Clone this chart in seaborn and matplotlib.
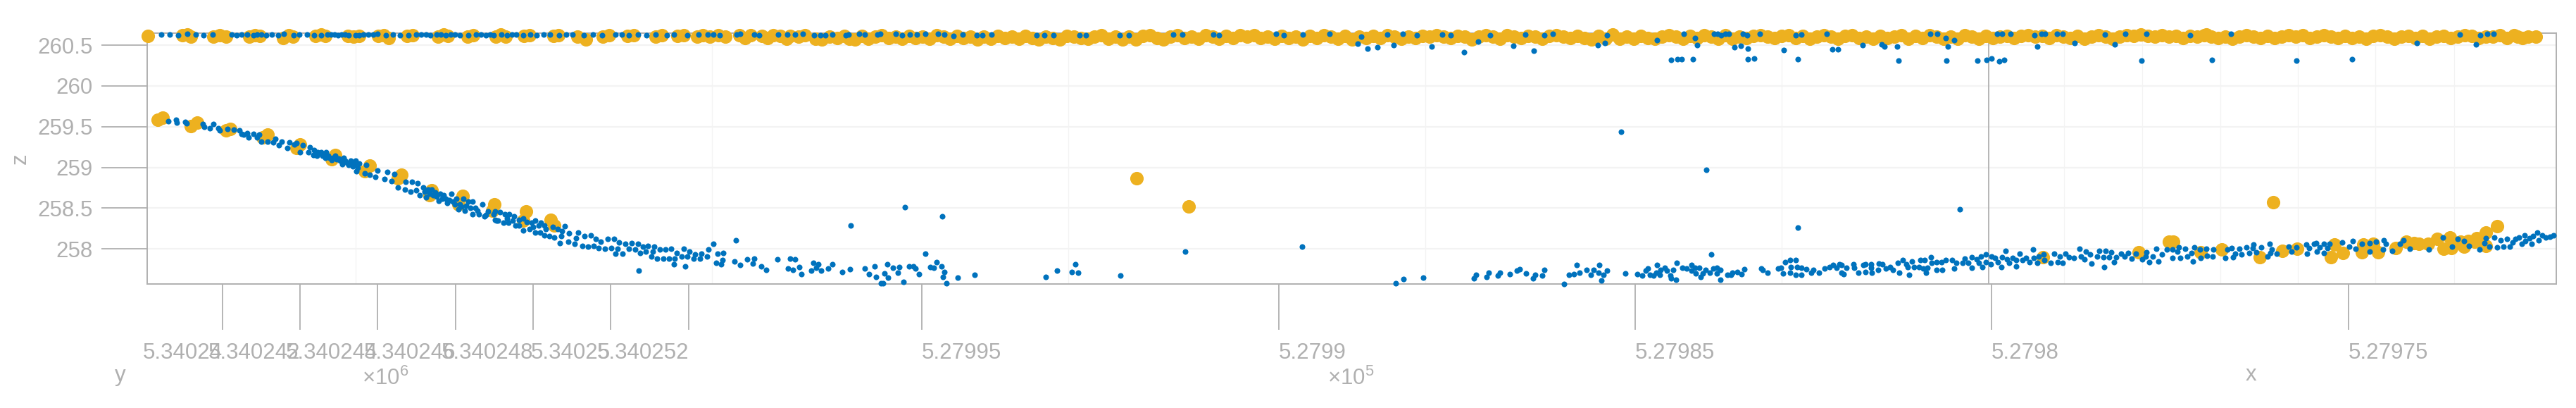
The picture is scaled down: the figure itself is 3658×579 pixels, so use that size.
import matplotlib
matplotlib.use("Agg")
import matplotlib.pyplot as plt
import pandas as pd
import seaborn as sns

# (track position along the view, z)
blue_descent = [(239,259.57),(250,259.58),(251,259.55),(263,259.56),(265,259.54),(288,259.53),(290,259.50),(298,259.48),(303,259.53),(310,259.48),(312,259.45),(323,259.47),(332,259.46),(340,259.45),(343,259.41),(346,259.40),(351,259.42),(353,259.37),(360,259.41),(365,259.37),(368,259.40),(371,259.32),(380,259.32),(388,259.31),(391,259.35),(396,259.27),(400,259.32),(408,259.24),(411,259.31),(418,259.28),(421,259.30),(430,259.27),(426,259.19),(438,259.19),(440,259.25),(446,259.21),(445,259.15),(451,259.19),(456,259.19),(450,259.14),(460,259.15),(463,259.19),(466,259.14),(471,259.09),(476,259.14),(481,259.11),(488,259.12),(486,259.04),(493,259.06),(498,259.08),(501,259.01),(505,259.08),(506,258.95),(510,259.05),(520,259.03),(518,258.93),(525,258.91),(533,258.88),(536,258.96),(546,258.86),(550,258.94),(556,258.83),(560,258.92),(565,258.75),(575,258.73),(576,258.82),(583,258.70),(585,258.82),(591,258.72),(593,258.81),(596,258.66),(601,258.75),(608,258.73),(613,258.73),(605,258.63),(618,258.69),(623,258.59),(625,258.68),(630,258.66),(635,258.56),(641,258.68),(648,258.62),(651,258.49),(658,258.62),(660,258.47),(665,258.58),(671,258.43),(671,258.58),(680,258.43),(685,258.55),(688,258.40),(693,258.46),(705,258.35),(701,258.43)]
blue_dense = [(455,259.17),(458,259.14),(462,259.12),(468,259.12),(473,259.12),(478,259.10),(483,259.08),(490,259.08),(495,259.03),(500,259.05),(503,259.03),(508,259.00),(603,258.70),(610,258.68),(615,258.66),(620,258.64),(628,258.62),(633,258.62),(638,258.60),(643,258.58),(646,258.55),(653,258.55),(655,258.52),(662,258.53),(668,258.50),(675,258.50),(678,258.47),(690,258.42)]
blue_knee = [(703,258.46),(703,258.36),(710,258.45),(707,258.35),(717,258.43),(715,258.32),(723,258.43),(722,258.32),(720,258.37),(730,258.40),(732,258.29),(728,258.35),(737,258.36),(737,258.29),(743,258.37),(743,258.23),(748,258.33),(752,258.24),(755,258.32),(760,258.35),(760,258.20),(757,258.27),(765,258.29),(768,258.32),(767,258.20),(773,258.29),(773,258.17),(780,258.16),(775,258.24),(785,258.27),(787,258.14),(792,258.24),(798,258.22),(797,258.16),(802,258.28),(795,258.07),(808,258.19),(807,258.09),(821,258.20),(818,258.13),(816,258.06),(830,258.16),(827,258.04),(839,258.17),(835,258.03),(846,258.12),(843,258.04),(853,258.09),(850,258.01),(863,258.12),(859,258.00),(872,258.12),(868,258.01),(879,258.08),(877,258.00),(874,257.94),(884,257.94),(888,258.06),(897,258.07),(893,258.00),(906,258.06),(902,257.99),(913,258.03),(909,257.95),(920,258.04),(917,257.97),(929,258.03),(927,257.97),(925,257.91),(907,257.73),(937,257.99),(933,257.88),(945,257.99),(942,257.88),(953,258.00),(950,257.88),(961,257.95),(958,257.88),(957,257.81),(971,258.00),(968,257.91),(979,257.97),(976,257.91),(973,257.79),(987,257.93),(985,257.88),(996,257.94),(994,257.88),(1006,257.99),(1004,257.91),(1013,258.06),(1019,257.94),(1027,257.95),(1017,257.83),(1024,257.81),(1026,257.86)]
blue_floor = [(1045,258.11),(1043,257.85),(1051,257.80),(1061,257.87),(1071,257.88),(1069,257.82),(1081,257.79),(1088,257.74),(1104,257.87),(1122,257.88),(1129,257.87),(1119,257.76),(1126,257.74),(1135,257.78),(1138,257.69),(1155,257.83),(1162,257.81),(1159,257.77),(1152,257.73),(1166,257.73),(1176,257.76),(1182,257.81),(1196,257.72),(1207,257.75),(1208,258.29),(1228,257.76),(1234,257.69),(1242,257.79),(1244,257.66),(1251,257.58),(1254,257.58),(1256,257.70),(1261,257.65),(1260,257.81),(1268,257.77),(1277,257.78),(1275,257.71),(1283,257.60),(1285,258.51),(1291,257.79),(1297,257.79),(1300,257.76),(1305,257.69),(1314,257.94),(1321,257.78),(1326,257.77),(1330,257.84),(1337,257.79),(1338,258.40),(1341,257.72),(1339,257.66),(1344,257.58),(1360,257.65),(1384,257.68),(1485,257.66),(1501,257.73),(1522,257.72),(1527,257.81),(1531,257.71),(1591,257.67),(1683,257.97),(1849,258.03),(1982,257.58),(1993,257.63),(2021,257.65)]
blue_low_flat = [(2093,257.64),(2096,257.68),(2111,257.66),(2114,257.71),(2127,257.67),(2130,257.71),(2144,257.69),(2154,257.73),(2158,257.75),(2167,257.70),(2177,257.64),(2180,257.68),(2190,257.67),(2193,257.74),(2221,257.57),(2228,257.68),(2235,257.69),(2239,257.80),(2243,257.71),(2253,257.74),(2259,257.68),(2263,257.74),(2271,257.80),(2270,257.71),(2277,257.68),(2274,257.61),(2282,257.73),(2308,257.70),(2325,257.69),(2332,257.67),(2337,257.73),(2340,257.76),(2343,257.68),(2348,257.67),(2353,257.80),(2352,257.71),(2357,257.68),(2358,257.74),(2364,257.77),(2367,257.73),(2372,257.67),(2376,257.74),(2373,257.64),(2380,257.62),(2381,257.83),(2389,257.77),(2395,257.76),(2402,257.80),(2402,257.73),(2407,257.77),(2408,257.70),(2413,257.77),(2415,257.66),(2418,257.70),(2422,257.74),(2430,257.93),(2428,257.71),(2433,257.76),(2438,257.77),(2438,257.70),(2443,257.74),(2443,257.62),(2453,257.68),(2460,257.71),(2458,257.68),(2467,257.72),(2473,257.69),(2477,257.75),(2501,257.76),(2503,257.74),(2510,257.71),(2525,257.76),(2529,257.77),(2535,257.84),(2542,257.86),(2550,257.86),(2543,257.78),(2532,257.70),(2542,257.71),(2550,257.68),(2552,257.78),(2558,257.77),(2558,257.68),(2565,257.75),(2572,257.71),(2575,257.74)]
blue_rise_a = [(2583,257.71),(2591,257.76),(2598,257.78),(2603,257.80),(2608,257.77),(2612,257.81),(2615,257.80),(2615,257.71),(2618,257.69),(2622,257.77),(2632,257.81),(2633,257.77),(2639,257.71),(2646,257.80),(2649,257.72),(2649,257.81),(2657,257.81),(2657,257.77),(2658,257.71),(2667,257.74),(2668,257.82),(2673,257.81),(2678,257.76),(2684,257.78),(2688,257.74),(2695,257.83),(2697,257.71),(2702,257.86),(2707,257.81),(2711,257.68),(2709,257.78),(2715,257.85),(2718,257.78),(2727,257.86),(2725,257.78),(2733,257.86),(2731,257.76),(2735,257.71),(2737,257.77),(2742,257.90),(2743,257.83),(2750,257.74),(2750,257.84),(2758,257.74),(2757,257.84),(2763,257.86),(2772,257.86),(2778,257.83),(2775,257.76),(2787,257.83),(2790,257.88),(2795,257.83),(2800,257.77),(2800,257.90),(2807,257.87),(2813,257.91),(2820,257.93),(2810,257.83),(2815,257.78),(2820,257.84),(2828,257.91),(2827,257.81),(2833,257.89),(2837,257.84),(2842,257.78),(2843,257.90),(2848,257.98),(2850,257.87),(2853,257.83),(2858,257.89),(2863,257.79),(2863,257.86),(2868,257.94),(2872,257.86),(2877,257.89),(2882,257.84),(2887,257.99),(2888,257.89),(2893,257.83),(2895,257.91),(2902,257.93),(2903,257.86),(2912,257.83),(2917,257.94),(2922,257.84),(2925,257.91),(2929,257.83),(2933,257.94),(2938,257.90),(2945,257.89),(2953,258.00),(2955,257.91),(2960,257.87),(2962,257.97),(2968,257.93),(2970,257.82),(2978,257.91),(2981,257.98),(2988,257.78),(2990,257.98),(2987,257.90),(2995,257.90),(2998,257.96),(3002,257.84),(3005,257.90),(3012,257.94),(3017,257.91),(3022,257.95),(3027,257.88),(3033,257.94),(3042,257.87),(3048,257.96),(3047,257.91),(3052,257.84),(3057,257.91),(3062,258.00),(3065,257.85),(3070,257.93),(3077,257.99)]
blue_rise_b = [(3085,257.99),(3085,257.89),(3094,258.02),(3092,257.97),(3096,257.89),(3103,258.00),(3106,257.91),(3112,257.95),(3114,257.85),(3116,258.02),(3125,257.89),(3124,257.99),(3133,258.00),(3134,257.92),(3142,257.91),(3143,257.99),(3160,257.89),(3163,257.99),(3169,258.01),(3171,257.90),(3174,257.94),(3180,258.00),(3183,257.93),(3190,258.02),(3194,257.95),(3199,258.01),(3200,258.05),(3204,257.96),(3211,258.02),(3220,257.91),(3223,258.06),(3226,257.99),(3224,257.95),(3233,257.94),(3250,258.03),(3254,257.97),(3261,258.02),(3275,258.05),(3276,257.94),(3279,258.01),(3286,258.06),(3289,258.07),(3290,257.97),(3294,258.02),(3300,258.06),(3300,257.95),(3305,258.01),(3308,258.06),(3326,258.08),(3336,258.03),(3341,258.10),(3345,258.00),(3354,258.06),(3365,258.07),(3365,257.97),(3374,258.09),(3384,257.99),(3385,258.11),(3388,258.06),(3397,257.98),(3408,258.06),(3413,258.11),(3422,258.00),(3449,257.99),(3469,258.14),(3482,258.03),(3490,258.12),(3499,258.10),(3506,258.04),(3521,257.99),(3528,258.07),(3530,258.13),(3535,258.03),(3542,258.14),(3546,258.02),(3551,258.11),(3555,258.03),(3560,258.12),(3564,258.03),(3568,258.08),(3572,258.12),(3577,258.14),(3581,258.06),(3585,258.17),(3586,258.10),(3592,258.13),(3595,258.06),(3597,258.16),(3603,258.20),(3605,258.11),(3610,258.17),(3615,258.14),(3621,258.15),(3626,258.17)]
blue_outliers = [(2302,259.44),(2423,258.97),(2553,258.26),(2783,258.49)]
blue_top_left = [(229,260.63),(241,260.63),(253,260.62),(266,260.64),(278,260.63),(289,260.62),(302,260.63),(329,260.63),(336,260.62),(343,260.63),(351,260.63),(360,260.62),(365,260.63),(371,260.63),(378,260.62),(386,260.63),(395,260.62),(403,260.64),(417,260.62),(425,260.63),(436,260.63),(446,260.62),(456,260.62),(465,260.63),(470,260.63),(475,260.63),(480,260.62),(485,260.63),(490,260.63),(495,260.62),(505,260.62),(510,260.62),(516,260.63),(523,260.63),(530,260.63),(536,260.64),(548,260.62),(558,260.63),(568,260.62),(580,260.62),(591,260.63),(598,260.63),(605,260.63),(611,260.62),(620,260.63),(626,260.63),(633,260.62),(640,260.63),(646,260.63),(653,260.62),(665,260.62),(676,260.63),(683,260.63),(690,260.62),(696,260.63),(701,260.62),(712,260.63),(720,260.62),(727,260.63),(733,260.63),(743,260.62),(753,260.63),(762,260.62),(772,260.63),(781,260.63),(794,260.62),(804,260.63),(813,260.63),(829,260.62),(842,260.63),(855,260.62),(874,260.63),(883,260.63),(893,260.62),(906,260.63),(918,260.62),(931,260.63),(947,260.62),(957,260.63),(976,260.62),(992,260.63)]
blue_top_mid = [(1005,260.63),(1013,260.63),(1022,260.62),(1046,260.63),(1051,260.64),(1071,260.63),(1078,260.62),(1105,260.63),(1118,260.63),(1129,260.63),(1140,260.64),(1156,260.62),(1165,260.62),(1172,260.62),(1182,260.63),(1201,260.62),(1205,260.63),(1220,260.64),(1228,260.63),(1246,260.63),(1250,260.64),(1272,260.64),(1281,260.62),(1292,260.63),(1302,260.63),(1314,260.64),(1332,260.64),(1341,260.63),(1354,260.61),(1367,260.63),(1387,260.62),(1395,260.62),(1408,260.63),(1472,260.62),(1483,260.62),(1496,260.62),(1533,260.62),(1542,260.62),(1590,260.62),(1603,260.62),(1666,260.63),(1679,260.63),(1723,260.63),(1731,260.62),(1812,260.64),(1823,260.62),(1850,260.63),(1888,260.64),(1928,260.52),(1933,260.60),(1942,260.46),(1956,260.47),(1970,260.63),(1979,260.50),(1992,260.64)]
blue_top_right = [(2012,260.62),(2033,260.48),(2048,260.63),(2060,260.62),(2079,260.41),(2099,260.54),(2116,260.62),(2149,260.49),(2166,260.63),(2178,260.43),(2193,260.62),(2205,260.64),(2269,260.50),(2279,260.53),(2282,260.62),(2353,260.56),(2373,260.32),(2382,260.33),(2388,260.33),(2391,260.64),(2404,260.33),(2407,260.59),(2410,260.50),(2434,260.64),(2439,260.64),(2444,260.62),(2450,260.64),(2455,260.64),(2463,260.47),(2472,260.49),(2475,260.64),(2481,260.62),(2482,260.46),(2482,260.33),(2491,260.34),(2499,260.64),(2533,260.44),(2550,260.62),(2553,260.33),(2558,260.63),(2594,260.64),(2602,260.45),(2610,260.45),(2645,260.50),(2672,260.51),(2676,260.48),(2694,260.48),(2696,260.31),(2741,260.64),(2751,260.64),(2763,260.59),(2764,260.31),(2766,260.48),(2775,260.56),(2808,260.31),(2821,260.32),(2828,260.34),(2836,260.64),(2839,260.30),(2843,260.64),(2846,260.32),(2855,260.64),(2889,260.62),(2893,260.48),(2899,260.64),(2904,260.64),(2921,260.64),(2929,260.64),(2946,260.53),(2989,260.63),(3003,260.51),(3018,260.64),(3041,260.31),(3048,260.64),(3110,260.62),(3141,260.32),(3168,260.64),(3261,260.31),(3340,260.33),(3432,260.53),(3493,260.63),(3516,260.51),(3522,260.62),(3532,260.64),(3541,260.64)]

orange_descent = [(224,259.58),(231,259.61),(271,259.51),(280,259.55),(321,259.45),(327,259.47),(373,259.37),(380,259.40),(421,259.24),(426,259.28),(471,259.10),(476,259.15),(518,258.95),(525,259.02),(565,258.87),(570,258.91),(610,258.66),(613,258.72),(651,258.55),(657,258.65),(702,258.55),(699,258.47),(747,258.46),(743,258.35),(782,258.36),(787,258.29)]
orange_off_band = [(1614,258.87),(1688,258.52),(2901,257.90),(3037,257.96),(3080,258.09),(3086,258.09),(3125,257.96),(3155,257.99),(3228,258.57),(3209,257.90),(3241,257.98),(3262,258.00),(3310,257.90),(3315,258.05),(3327,257.95),(3354,257.96),(3356,258.05),(3370,258.06),(3377,257.96),(3402,258.01),(3417,258.09),(3428,258.07),(3435,258.06),(3448,258.06),(3461,258.12),(3470,258.00),(3479,258.14),(3481,258.01),(3494,258.09),(3499,258.03),(3505,258.10),(3514,258.09),(3517,258.13),(3530,258.20),(3530,258.04),(3546,258.28)]
orange_top_left = [(210,260.61),(259,260.62),(266,260.63),(271,260.60),(303,260.60),(312,260.62),(321,260.60),(354,260.60),(362,260.62),(369,260.61),(402,260.59),(410,260.62),(416,260.60),(448,260.61),(456,260.63),(462,260.61),(494,260.61),(502,260.60),(510,260.61),(537,260.61),(545,260.62),(552,260.59),(578,260.61),(586,260.62),(622,260.60),(630,260.63),(636,260.61),(664,260.60),(672,260.62),(704,260.60),(711,260.63),(718,260.60),(744,260.61),(752,260.62),(786,260.61),(793,260.62),(820,260.60),(832,260.57),(856,260.60),(865,260.62),(891,260.61),(900,260.62),(931,260.60),(940,260.62),(962,260.61),(971,260.62),(990,260.60),(998,260.62)]
orange_top_mid = [(1008,260.60),(1020,260.62),(1030,260.60),(1050,260.62),(1058,260.59),(1066,260.62),(1082,260.61),(1090,260.59),(1098,260.62),(1108,260.61),(1117,260.58),(1122,260.61),(1134,260.60),(1143,260.62),(1158,260.58),(1167,260.57),(1178,260.60),(1189,260.59),(1199,260.61),(1206,260.58),(1214,260.57),(1224,260.61),(1233,260.58),(1243,260.60),(1252,260.62),(1262,260.59),(1272,260.60),(1281,260.58),(1291,260.61),(1300,260.59),(1310,260.60),(1320,260.58),(1330,260.62),(1340,260.60),(1349,260.58),(1359,260.61),(1368,260.59),(1378,260.60),(1388,260.57),(1397,260.60),(1407,260.58),(1417,260.61),(1427,260.59),(1437,260.60),(1447,260.58),(1456,260.61),(1466,260.59),(1475,260.57),(1485,260.60),(1495,260.59),(1505,260.57),(1515,260.61),(1525,260.60),(1535,260.59),(1545,260.58),(1554,260.60),(1564,260.62),(1574,260.58),(1584,260.60),(1594,260.57),(1603,260.60),(1613,260.57),(1623,260.61),(1633,260.62),(1643,260.59),(1652,260.57),(1662,260.60),(1672,260.62),(1682,260.59),(1692,260.60),(1702,260.58),(1712,260.62),(1722,260.60),(1731,260.58),(1741,260.61),(1751,260.59),(1761,260.62),(1771,260.60),(1781,260.62),(1790,260.59),(1800,260.60),(1810,260.58),(1820,260.61),(1830,260.59),(1840,260.60),(1850,260.57),(1860,260.61),(1870,260.59),(1880,260.62),(1890,260.60),(1900,260.58),(1910,260.61),(1920,260.57),(1930,260.60),(1940,260.59),(1950,260.61),(1960,260.59),(1970,260.62),(1980,260.60),(1990,260.58)]
orange_top_centre = [(2000,260.60),(2010,260.59),(2020,260.61),(2030,260.60),(2040,260.62),(2050,260.60),(2060,260.59),(2070,260.61),(2080,260.60),(2090,260.57),(2100,260.60),(2110,260.62),(2120,260.60),(2130,260.58),(2140,260.62),(2150,260.60),(2160,260.59),(2170,260.61),(2180,260.60),(2190,260.58),(2200,260.61),(2210,260.62),(2220,260.60),(2230,260.59),(2240,260.61),(2250,260.59),(2260,260.57),(2270,260.61),(2280,260.58),(2290,260.63),(2300,260.58),(2310,260.60),(2320,260.58),(2330,260.61),(2340,260.59),(2350,260.58),(2360,260.60),(2370,260.62),(2380,260.60),(2390,260.58),(2400,260.61),(2410,260.59),(2420,260.62),(2430,260.60),(2440,260.58),(2450,260.62),(2460,260.58),(2470,260.60),(2480,260.59),(2490,260.61),(2500,260.62),(2510,260.60),(2520,260.59),(2530,260.61),(2540,260.62),(2550,260.59),(2560,260.61),(2570,260.58),(2580,260.60),(2590,260.62),(2600,260.60),(2610,260.58),(2620,260.61),(2630,260.62),(2640,260.59),(2650,260.60),(2660,260.58),(2670,260.61),(2680,260.59),(2690,260.60),(2700,260.62),(2710,260.58),(2720,260.61),(2730,260.59),(2740,260.62),(2750,260.60),(2760,260.58),(2770,260.60),(2780,260.58),(2790,260.62),(2800,260.60),(2810,260.58),(2820,260.61),(2830,260.59),(2840,260.60),(2850,260.61),(2860,260.59),(2870,260.61),(2880,260.62),(2890,260.60),(2900,260.61),(2910,260.59),(2920,260.62),(2930,260.60),(2940,260.59),(2950,260.61),(2960,260.58),(2970,260.60),(2980,260.62),(2990,260.60)]
orange_top_right = [(3000,260.58),(3010,260.60),(3020,260.62),(3030,260.61),(3040,260.63),(3050,260.61),(3060,260.60),(3070,260.62),(3080,260.60),(3090,260.61),(3100,260.59),(3110,260.61),(3120,260.60),(3130,260.62),(3133,260.63),(3140,260.60),(3150,260.59),(3160,260.60),(3170,260.58),(3180,260.60),(3190,260.62),(3200,260.60),(3210,260.59),(3220,260.61),(3230,260.59),(3240,260.60),(3250,260.62),(3260,260.60),(3270,260.62),(3280,260.59),(3290,260.60),(3300,260.62),(3310,260.60),(3320,260.59),(3330,260.61),(3340,260.59),(3350,260.60),(3360,260.58),(3370,260.61),(3380,260.62),(3390,260.60),(3400,260.58),(3410,260.60),(3420,260.61),(3430,260.59),(3440,260.61),(3450,260.58),(3460,260.60),(3470,260.61),(3480,260.59),(3490,260.60),(3500,260.62),(3510,260.61),(3520,260.59),(3530,260.60),(3540,260.60),(3550,260.62),(3560,260.59),(3570,260.62),(3575,260.60),(3582,260.59),(3590,260.60),(3601,260.60)]

z_ticks = [258, 258.5, 259, 259.5, 260, 260.5]
z_labels = ["258", "258.5", "259", "259.5", "260", "260.5"]
y_ticks = [316, 426, 536, 647, 757, 867, 978]
y_labels = ["5.34024", "5.340242", "5.340244", "5.340246", "5.340248", "5.34025", "5.340252"]
x_ticks = [1309, 1816, 2322, 2828, 3335]
x_labels = ["5.27995", "5.2799", "5.27985", "5.2798", "5.27975"]
grid_positions = [504.5, 1011, 1517, 2024, 2530, 2931, 3042, 3153, 3263, 3373, 3485]
edge_position = 2824

BLUE, ORANGE = "#0072BD", "#EDB120"
GREY, GRID = "#b0b0b0", "#f3f3f3"

sns.set_theme(style="white")
plt.rcParams["font.family"] = ["Liberation Sans", "DejaVu Sans"]
plt.rcParams["mathtext.fontset"] = "custom"
plt.rcParams["mathtext.rm"] = "Liberation Sans"
plt.rcParams["mathtext.default"] = "regular"

W, H = 3658, 579
L, R, T, B = 208.5, 3630, 47, 403
fig = plt.figure(figsize=(W / 100, H / 100), dpi=100, facecolor="white")
ax = fig.add_axes([L / W, 1 - B / H, (R - L) / W, (B - T) / H])

blue = pd.DataFrame(blue_descent + blue_dense + blue_knee + blue_floor + blue_low_flat + blue_rise_a + blue_rise_b
                    + blue_outliers + blue_top_left + blue_top_mid + blue_top_right, columns=["track", "z"])
orange = pd.DataFrame(orange_descent + orange_off_band + orange_top_left + orange_top_mid
                      + orange_top_centre + orange_top_right, columns=["track", "z"])

sns.scatterplot(data=orange, x="track", y="z", color=ORANGE, s=190, linewidth=0, ax=ax, clip_on=False, zorder=3)
sns.scatterplot(data=blue, x="track", y="z", color=BLUE, s=34, linewidth=0, ax=ax, clip_on=False, zorder=4)

ax.set_xlim(L, R)
ax.set_ylim(257.57, 260.647)
ax.set_xlabel("")
ax.set_ylabel("")

ax.set_yticks(z_ticks, z_labels)
ax.set_xticks(y_ticks + x_ticks, y_labels + x_labels)
ax.set_xticks(grid_positions, minor=True)
ax.tick_params(axis="both", which="major", length=47, width=1.3, color=GREY, labelcolor="#b0b0b0", labelsize=22.5)
ax.tick_params(axis="x", which="major", pad=13)
ax.tick_params(axis="y", which="major", pad=8)
ax.tick_params(axis="x", which="minor", length=0)
ax.tick_params(bottom=True, left=True)
for i, lab in enumerate(ax.get_xticklabels()):
    lab.set_ha("right" if i < len(y_ticks) else "left")
ax.grid(False)
ax.yaxis.grid(True, color=GRID, lw=1.6, zorder=0)
ax.xaxis.grid(True, which="minor", color=GRID, lw=0.9, zorder=0)
ax.set_axisbelow(True)
ax.axvline(edge_position, color=GREY, lw=1.3, zorder=1)
for s in ax.spines.values():
    s.set_visible(True)
    s.set_color(GREY)
    s.set_linewidth(1.4)

def label(px, py, text, **kw):
    fig.text(px / W, 1 - py / H, text, color="#b0b0b0", fontsize=22.5, ha="center", va="center", **kw)

label(29, 225, "z", rotation=90)
label(171, 533, "y")
label(3196, 532, "x")
label(547, 537, r"$\times$10$^{6}$")
label(1918, 537, r"$\times$10$^{5}$")

fig.savefig("out.png", dpi=100)
